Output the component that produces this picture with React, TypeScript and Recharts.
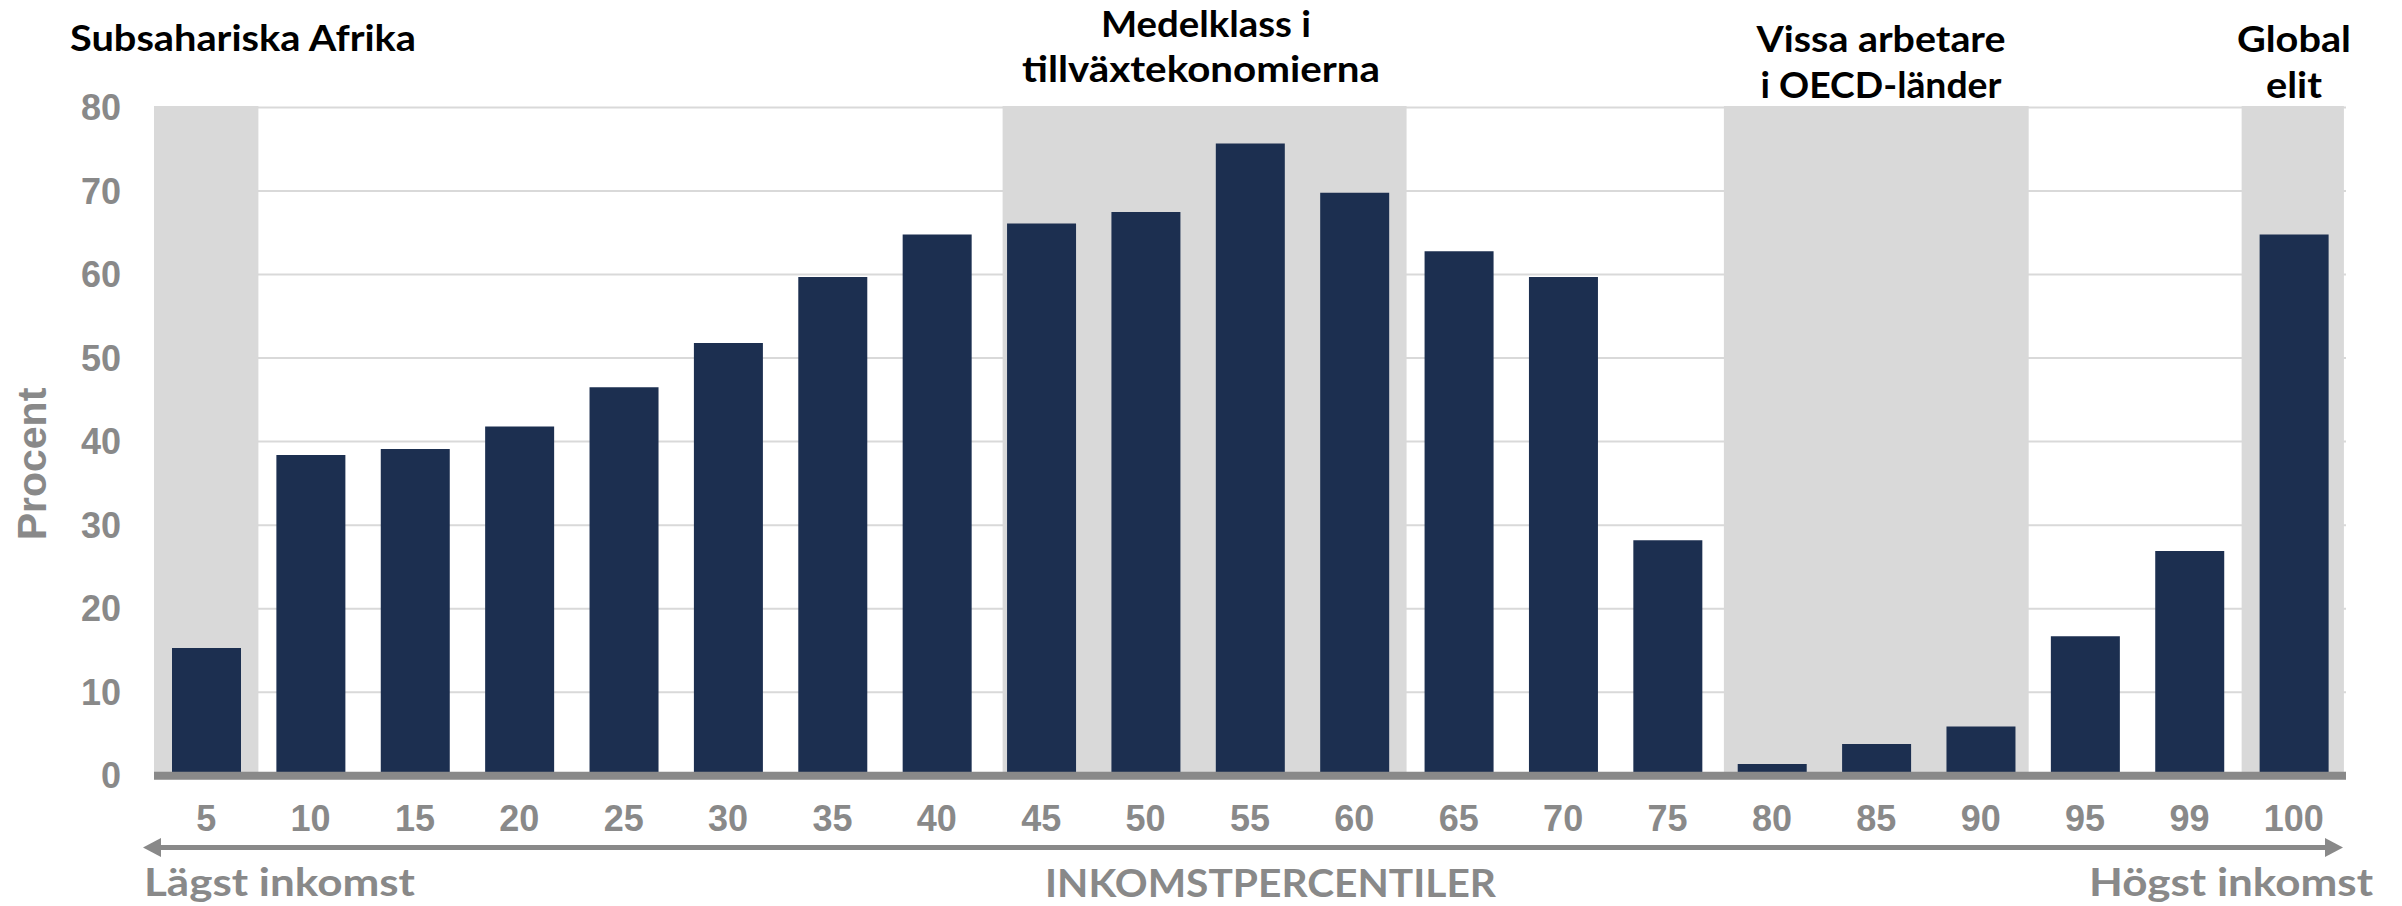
import React from 'react';
import { BarChart, Bar, XAxis, YAxis, CartesianGrid, ReferenceArea } from 'recharts';

const percentiles = ['5', '10', '15', '20', '25', '30', '35', '40', '45', '50', '55', '60', '65', '70', '75', '80', '85', '90', '95', '99', '100'];
const growthPercent = [15.3, 38.4, 39.1, 41.8, 46.5, 51.8, 59.7, 64.8, 66.1, 67.5, 75.7, 69.8, 62.8, 59.7, 28.2, 1.4, 3.8, 5.9, 16.7, 26.9, 64.8];
const yTicks = [0, 10, 20, 30, 40, 50, 60, 70, 80];
const bandStarts = ['5', '45', '80', '100'];
const bandEnds = ['5', '60', '90', '100'];
const groupLines = [
  ['Subsahariska Afrika'],
  ['Medelklass i', 'tillväxtekonomierna'],
  ['Vissa arbetare', 'i OECD-länder'],
  ['Global', 'elit'],
];
const yTitle = 'Procent';
const xTitle = 'INKOMSTPERCENTILER';
const lowLabel = 'Lägst inkomst';
const highLabel = 'Högst inkomst';

const data = percentiles.map((p, i) => ({ percentile: p, value: growthPercent[i] }));

const W = 2402;
const H = 906;
const GRAY = '#898989';
const NAVY = '#1c2f50';
const BAND = '#d9d9d9';
const CAL = 'Lato, "Open Sans", sans-serif';
const ARIAL = '"Liberation Sans", Arial, sans-serif';

// left/right edge insets of the shaded bands, as a fraction of one category width
const bandInsets = [[0, 0], [0.13, 0], [0.04, 0.04], [0, 0.02]];

// layout of the group captions: [x, baseline, textLength, anchor] per line
const groupLayout = [
  [[70, 51, 346, 'start']],
  [[1206, 37, 210, 'middle'], [1201, 82, 358, 'middle']],
  [[1881, 52, 249, 'middle'], [1881, 98, 241, 'middle']],
  [[2294, 52, 114, 'middle'], [2294, 98, 56, 'middle']],
];

const makeBandShape = (idx: number) => (props: any) => {
  const { x, y, width, height } = props;
  const cats = percentiles.indexOf(bandEnds[idx]) - percentiles.indexOf(bandStarts[idx]) + 1;
  const cw = width / cats;
  const l = bandInsets[idx][0] * cw;
  const r = bandInsets[idx][1] * cw;
  return <rect x={x + l} y={y - 1.5} width={width - l - r} height={height + 1.5} fill={BAND} stroke="none" />;
};

export default function App() {
  return (
    <div style={{ position: 'absolute', left: 0, top: 0, width: W, height: H, background: '#fff' }}>
      <BarChart
        width={W}
        height={H}
        data={data}
        margin={{ top: 107.5, right: 56, bottom: 100.3, left: 94 }}
      >
        <CartesianGrid vertical={false} stroke="#d9d9d9" strokeWidth={2} />
        {bandStarts.map((s, i) => (
          <ReferenceArea
            key={s}
            x1={s}
            x2={bandEnds[i]}
            y1={0}
            y2={80}
            fill={BAND}
            fillOpacity={1}
            stroke="none"
            ifOverflow="extendDomain"
            shape={makeBandShape(i)}
          />
        ))}
        <XAxis
          dataKey="percentile"
          height={30}
          tickLine={false}
          tickSize={0}
          tickMargin={30}
          interval={0}
          axisLine={{ stroke: GRAY, strokeWidth: 8 }}
          tick={{ fill: GRAY, fontSize: 36, fontWeight: 700, fontFamily: ARIAL }}
        />
        <YAxis
          width={60}
          domain={[0, 80]}
          ticks={yTicks}
          axisLine={false}
          tickLine={false}
          tickSize={0}
          tickMargin={33}
          tick={{ fill: GRAY, fontSize: 36, fontWeight: 700, fontFamily: ARIAL }}
        />
        <Bar dataKey="value" fill={NAVY} barSize={69} isAnimationActive={false} />
      </BarChart>
      <svg
        width={W}
        height={H}
        style={{ position: 'absolute', left: 0, top: 0, pointerEvents: 'none' }}
      >
        {groupLines.map((lines, gi) =>
          lines.map((t, li) => {
            const [x, y, len, anchor] = groupLayout[gi][li] as [number, number, number, string];
            return (
              <text
                key={gi + '-' + li}
                x={x}
                y={y}
                textAnchor={anchor as any}
                textLength={len}
                lengthAdjust="spacingAndGlyphs"
                fontFamily={CAL}
                fontWeight={700}
                fontSize={37}
                fill="#000"
              >
                {t}
              </text>
            );
          })
        )}
        <text
          transform="translate(46,464) rotate(-90)"
          textAnchor="middle"
          fontFamily={ARIAL}
          fontWeight={700}
          fontSize={41}
          fill={GRAY}
        >
          {yTitle}
        </text>
        <line x1={160} x2={2326} y1={847.5} y2={847.5} stroke={GRAY} strokeWidth={5} />
        <polygon points="143,847.5 161,838 161,857" fill={GRAY} />
        <polygon points="2343,847.5 2325,838 2325,857" fill={GRAY} />
        <text x={144} y={896} textLength={271} lengthAdjust="spacingAndGlyphs" fontFamily={CAL} fontWeight={700} fontSize={39} fill={GRAY}>
          {lowLabel}
        </text>
        <text x={1045} y={897} textLength={451} lengthAdjust="spacingAndGlyphs" fontFamily={CAL} fontWeight={700} fontSize={39} fill={GRAY}>
          {xTitle}
        </text>
        <text x={2089} y={896} textLength={284} lengthAdjust="spacingAndGlyphs" fontFamily={CAL} fontWeight={700} fontSize={39} fill={GRAY}>
          {highLabel}
        </text>
      </svg>
    </div>
  );
}
